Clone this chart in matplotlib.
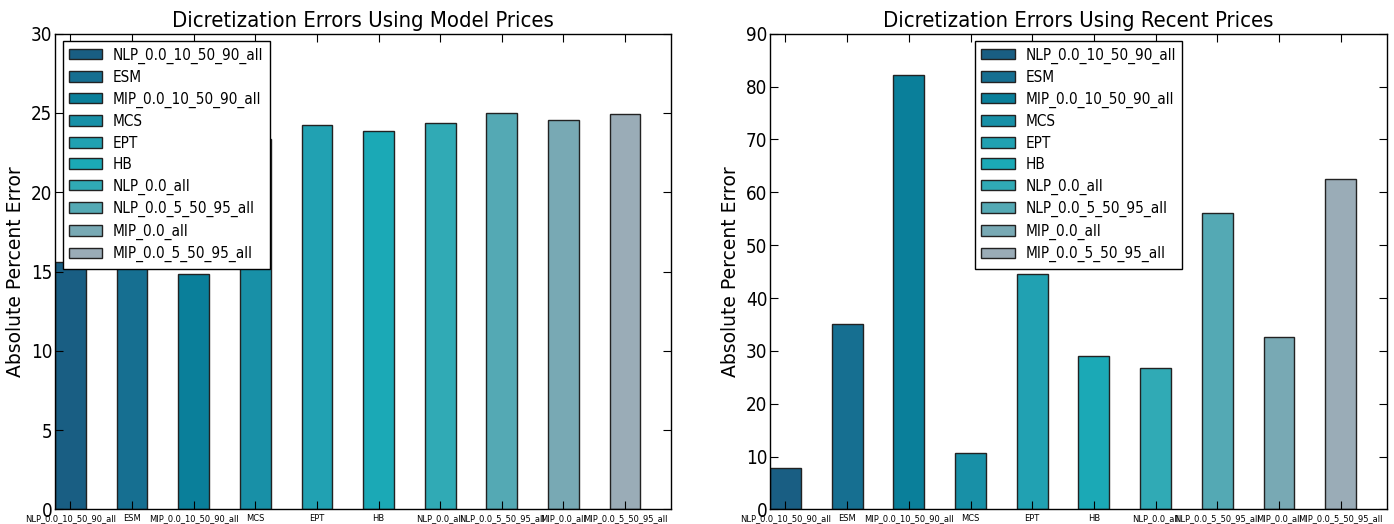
import numpy as np
from matplotlib import pyplot as plt

methods = ['NLP_0.0_10_50_90_all', 'ESM', 'MIP_0.0_10_50_90_all', 'MCS', 'EPT', 'HB',
           'NLP_0.0_all', 'NLP_0.0_5_50_95_all', 'MIP_0.0_all', 'MIP_0.0_5_50_95_all']
colors = ['#195e83', '#166f91', '#0a7f9a', '#1890a7', '#21a1b2', '#1ba9b6',
          '#30aab5', '#54a9b4', '#78a9b4', '#9aacb7']
model_errors = [15.63, 16.11, 14.87, 23.36, 24.23, 23.87, 24.35, 24.98, 24.58, 24.96]
recent_errors = [7.8, 35.1, 82.2, 10.7, 44.5, 29.0, 26.7, 56.0, 32.6, 62.6]

cond = dict(family='DejaVu Sans', stretch='condensed')


def draw_panel(ax, values, title, ymax, ystep, legend_loc):
    """ Draws one bar panel in the old classic matplotlib look """
    x = np.arange(len(methods))
    for i in range(len(methods)):
        ax.bar(x[i], values[i], width=0.5, align='edge', color=colors[i],
               edgecolor='#222222', linewidth=1.0, label=methods[i])
    ax.set_xlim(0, len(methods))
    ax.set_ylim(0, ymax)
    ax.set_xticks(x + 0.25)
    ax.set_xticklabels(methods, fontsize=6.7, **cond)
    ax.set_yticks(np.arange(0, ymax + 1, ystep))
    ax.set_yticklabels([str(v) for v in np.arange(0, ymax + 1, ystep)], fontsize=13.5, **cond)
    ax.tick_params(direction='in', length=6, width=0.8, top=True, right=True, pad=2)
    ax.tick_params(axis='x', pad=3)
    for s in ax.spines.values():
        s.set_linewidth(1.0)
    ax.set_title(title, fontsize=15.8, pad=5, **cond)
    ax.set_ylabel('Absolute Percent Error', fontsize=13.5, labelpad=4)
    leg = ax.legend(loc=legend_loc, prop=dict(size=11, **cond), fancybox=False,
                    handlelength=2.2, handleheight=0.7, labelspacing=0.42,
                    borderaxespad=0.5, framealpha=1, edgecolor='black',
                    borderpad=0.4, handletextpad=0.7)
    leg.get_frame().set_linewidth(1.0)


fig = plt.figure(figsize=(13.94, 5.24), dpi=100)
ax1 = fig.add_axes([0.0395, 0.0277, 0.442, 0.908])
ax2 = fig.add_axes([0.5524, 0.0277, 0.4425, 0.908])
draw_panel(ax1, model_errors, 'Dicretization Errors Using Model Prices', 30, 5, 'upper left')
draw_panel(ax2, recent_errors, 'Dicretization Errors Using Recent Prices', 90, 10, 'upper center')
plt.savefig('out.png', dpi=100)
